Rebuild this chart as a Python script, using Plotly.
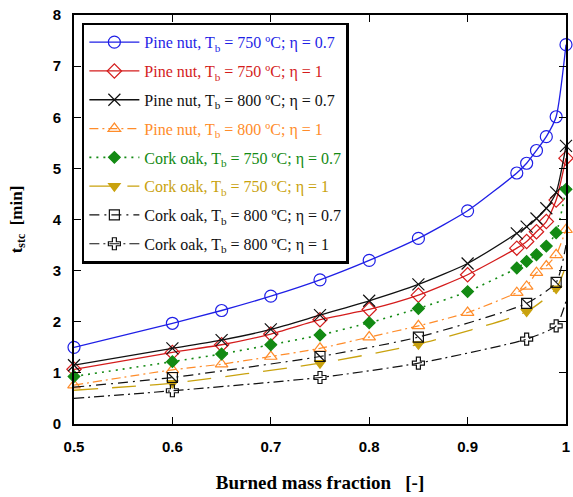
import plotly.graph_objects as go

x_full = [0.5, 0.6, 0.65, 0.7, 0.75, 0.8, 0.85, 0.9, 0.95, 0.96, 0.97, 0.98, 0.99, 1.0]

pine_750_07 = [1.50, 1.97, 2.22, 2.50, 2.82, 3.20, 3.63, 4.17, 4.91, 5.10, 5.35, 5.62, 6.01, 7.42]
pine_750_1 = [1.07, 1.40, 1.55, 1.76, 2.04, 2.24, 2.52, 2.92, 3.44, 3.57, 3.76, 3.96, 4.38, 5.20]
pine_800_07 = [1.15, 1.48, 1.64, 1.85, 2.13, 2.41, 2.73, 3.14, 3.73, 3.86, 4.02, 4.22, 4.53, 5.44]
pine_800_1 = [0.76, 1.06, 1.17, 1.32, 1.48, 1.70, 1.92, 2.18, 2.57, 2.69, 2.96, 3.09, 3.31, 3.80]
cork_750_07 = [0.93, 1.22, 1.37, 1.55, 1.74, 1.98, 2.26, 2.59, 3.05, 3.18, 3.31, 3.48, 3.74, 4.59]

x_cork = [0.5, 0.6, 0.75, 0.85, 0.96, 0.99, 1.0]
cork_750_1 = [0.66, 0.80, 1.19, 1.56, 2.20, 2.65, 3.10]
cork_800_07 = [0.72, 0.91, 1.32, 1.70, 2.36, 2.77, 3.50]
cork_800_1 = [0.50, 0.65, 0.91, 1.19, 1.66, 1.92, 2.40]
cork_marker_idx = [1, 2, 3, 4, 5]

x_ticks = [0.5, 0.6, 0.7, 0.8, 0.9, 1.0]
x_ticklabels = ["0.5", "0.6", "0.7", "0.8", "0.9", "1"]
y_ticks = [0, 1, 2, 3, 4, 5, 6, 7, 8]

names = [
    "Pine nut, T<sub>b</sub> = 750 ºC; η = 0.7",
    "Pine nut, T<sub>b</sub> = 750 ºC; η = 1",
    "Pine nut, T<sub>b</sub> = 800 ºC; η = 0.7",
    "Pine nut, T<sub>b</sub> = 800 ºC; η = 1",
    "Cork oak, T<sub>b</sub> = 750 ºC; η = 0.7",
    "Cork oak, T<sub>b</sub> = 750 ºC; η = 1",
    "Cork oak, T<sub>b</sub> = 800 ºC; η = 0.7",
    "Cork oak, T<sub>b</sub> = 800 ºC; η = 1",
]

series = [
    dict(x=x_full, y=pine_750_07, idx=None, color="#1f1fe6", dash="solid",
         sym="circle-open", size=12, lw=1.3),
    dict(x=x_full, y=pine_750_1, idx=None, color="#d41c1c", dash="solid",
         sym="diamond-open", size=11, lw=1.3),
    dict(x=x_full, y=pine_800_07, idx=None, color="#111111", dash="solid",
         sym="x-thin-open", size=12, lw=1.3),
    dict(x=x_full, y=pine_800_1, idx=None, color="#ff8c2a", dash="9px,4px,2px,4px",
         sym="triangle-up-open", size=11, lw=1.2),
    dict(x=x_full, y=cork_750_07, idx=None, color="#138a13", dash="2px,5px",
         sym="diamond", size=9, lw=1.6),
    dict(x=x_cork, y=cork_750_1, idx=cork_marker_idx, color="#c9a20e", dash="24px,14px",
         sym="triangle-down", size=10, lw=1.3),
    dict(x=x_cork, y=cork_800_07, idx=cork_marker_idx, color="#111111", dash="10px,5px,2px,5px",
         sym="square-open", size=10, lw=1.2),
    dict(x=x_cork, y=cork_800_1, idx=cork_marker_idx, color="#111111", dash="10px,4px,2px,4px",
         sym="cross-open", size=10, lw=1.2),
]

fig = go.Figure()

for i, s in enumerate(series):
    grp = f"g{i}"
    fig.add_trace(go.Scatter(
        x=s["x"], y=s["y"], mode="lines", legendgroup=grp, showlegend=False,
        line=dict(color=s["color"], width=s["lw"], dash=s["dash"], shape="spline", smoothing=0.6),
        hoverinfo="skip"))
    if s["idx"] is None:
        mx, my = s["x"], s["y"]
    else:
        mx = [s["x"][k] for k in s["idx"]]
        my = [s["y"][k] for k in s["idx"]]
    fig.add_trace(go.Scatter(
        x=mx, y=my, mode="markers", legendgroup=grp, showlegend=False, cliponaxis=False,
        marker=dict(symbol=s["sym"], size=s["size"], color=s["color"],
                    line=dict(color=s["color"], width=1.2)),
        hoverinfo="skip"))
    if i == 6:
        fig.add_trace(go.Scatter(
            x=mx, y=my, mode="markers", legendgroup=grp, showlegend=False, cliponaxis=False,
            marker=dict(symbol="line-nw", size=10, color=s["color"],
                        line=dict(color=s["color"], width=1.2)),
            hoverinfo="skip"))
    fig.add_trace(go.Scatter(
        x=[None], y=[None], mode="lines+markers", legendgroup=grp, showlegend=True,
        name=f'<span style="color:{s["color"]}">{names[i]}</span>',
        line=dict(color=s["color"], width=s["lw"], dash=s["dash"]),
        marker=dict(symbol=s["sym"], size=s["size"], color=s["color"],
                    line=dict(color=s["color"], width=1.2))))

axis_common = dict(
    showline=True, linecolor="black", linewidth=2, mirror="allticks",
    ticks="inside", ticklen=7, tickwidth=1.2, tickcolor="black",
    showgrid=False, zeroline=False, ticklabeloverflow="allow",
    tickfont=dict(family="Liberation Sans", size=15, color="black", weight="bold"),
)

fig.update_xaxes(
    range=[0.5, 1.0], tickvals=x_ticks, ticktext=x_ticklabels, ticklabelstandoff=8,
    title=dict(text="Burned mass fraction \u00a0 [-]", standoff=22,
               font=dict(family="Liberation Serif", size=19, color="black", weight="bold")),
    **axis_common)
fig.update_yaxes(
    range=[0, 8], tickvals=y_ticks, ticklabelstandoff=8,
    title=dict(text="t<sub>stc</sub>  [min]", standoff=26,
               font=dict(family="Liberation Serif", size=17, color="black", weight="bold")),
    **axis_common)

fig.update_layout(
    width=573, height=497,
    margin=dict(l=74, r=3, t=15, b=73),
    plot_bgcolor="white", paper_bgcolor="white",
    showlegend=True,
    legend=dict(x=0.016, y=0.981, xanchor="left", yanchor="top",
                bgcolor="white", bordercolor="black", borderwidth=2.5,
                font=dict(family="Liberation Serif", size=16, color="black"),
                traceorder="grouped", tracegroupgap=5, itemwidth=50),
)

fig.write_html("out.html", config={"displayModeBar": False},
               post_script="document.body.style.margin='0';document.body.style.overflow='hidden';")
